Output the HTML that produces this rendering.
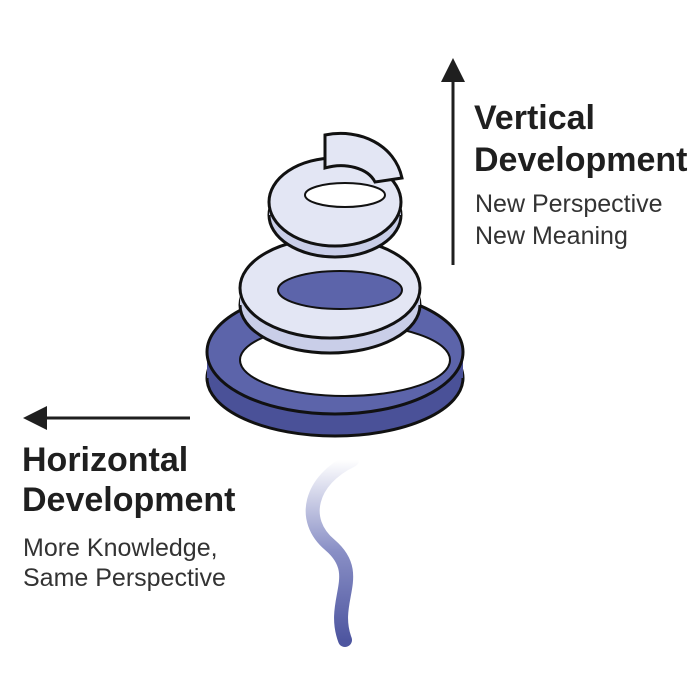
<!DOCTYPE html>
<html><head><style>
body{margin:0;width:700px;height:700px;background:#fff;overflow:hidden;position:relative;font-family:"Liberation Sans",sans-serif;color:#1f1f1f}
.t{position:absolute;white-space:nowrap}
.b{font-weight:bold;font-size:34px}
.s{font-size:25px;color:#333}
</style></head><body>
<svg width="700" height="700" style="position:absolute;left:0;top:0">
<defs>
<linearGradient id="sq" x1="0" y1="0" x2="0" y2="1">
<stop offset="0" stop-color="#fff"/><stop offset="0.5" stop-color="#8a90c6"/><stop offset="1" stop-color="#4e56a0"/></linearGradient>
<marker id="ah" markerWidth="8" markerHeight="8" refX="4" refY="4" orient="auto"><path d="M0,0 L8,4 L0,8 z" fill="#1f1f1f"/></marker>
</defs>
<line x1="453" y1="265" x2="453" y2="70" stroke="#1f1f1f" stroke-width="3" marker-end="url(#ah)"/>
<line x1="190" y1="418" x2="35" y2="418" stroke="#1f1f1f" stroke-width="3" marker-end="url(#ah)"/>
<path d="M352,460 C310,480 300,520 330,545 C365,575 330,600 345,640" fill="none" stroke="url(#sq)" stroke-width="14" stroke-linecap="round"/>
<!-- bottom ring -->
<ellipse cx="335" cy="378" rx="128" ry="58" fill="#4a5198" stroke="#111" stroke-width="3"/>
<rect x="207" y="352" width="256" height="26" fill="#4a5198"/>
<ellipse cx="335" cy="352" rx="128" ry="62" fill="#5c64aa" stroke="#111" stroke-width="3"/>
<ellipse cx="345" cy="360" rx="105" ry="36" fill="#fff" stroke="#111" stroke-width="2"/>
<!-- middle ring -->
<ellipse cx="330" cy="305" rx="90" ry="48" fill="#c9cee8" stroke="#111" stroke-width="3"/>
<rect x="240" y="288" width="180" height="17" fill="#c9cee8"/>
<ellipse cx="330" cy="288" rx="90" ry="50" fill="#e3e6f4" stroke="#111" stroke-width="3"/>
<ellipse cx="340" cy="290" rx="62" ry="19" fill="#5c64aa" stroke="#111" stroke-width="2"/>
<!-- top ring -->
<ellipse cx="335" cy="215" rx="66" ry="42" fill="#c9cee8" stroke="#111" stroke-width="3"/>
<rect x="269" y="202" width="132" height="13" fill="#c9cee8"/>
<ellipse cx="335" cy="202" rx="66" ry="44" fill="#e3e6f4" stroke="#111" stroke-width="3"/>
<ellipse cx="345" cy="195" rx="40" ry="12" fill="#fff" stroke="#111" stroke-width="2"/>
<path d="M325,135 C360,128 395,145 402,178 L375,182 C368,168 345,162 325,168 z" fill="#e3e6f4" stroke="#111" stroke-width="3"/>
</svg>
<div class="t b" style="left:474px;top:99px">Vertical</div>
<div class="t b" style="left:474px;top:141px">Development</div>
<div class="t s" style="left:475px;top:190px">New Perspective</div>
<div class="t s" style="left:475px;top:222px">New Meaning</div>
<div class="t b" style="left:22px;top:441px">Horizontal</div>
<div class="t b" style="left:22px;top:481px">Development</div>
<div class="t s" style="left:23px;top:534px">More Knowledge,</div>
<div class="t s" style="left:23px;top:564px">Same Perspective</div>
</body></html>
